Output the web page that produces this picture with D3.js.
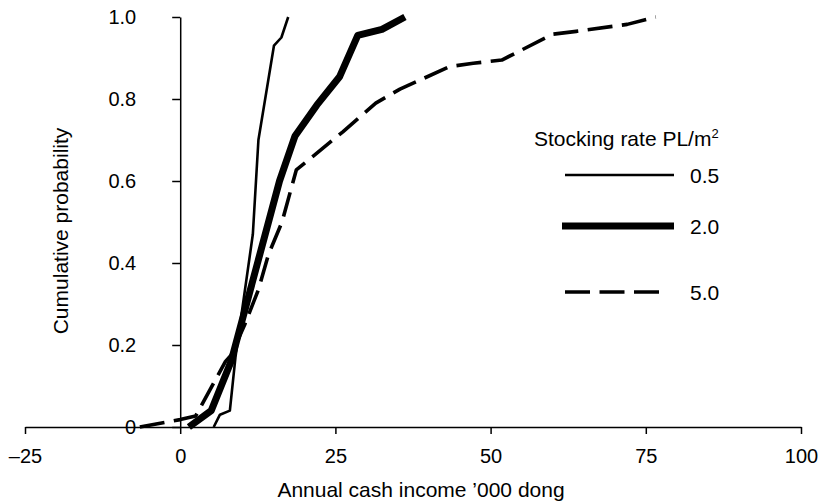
<!DOCTYPE html>
<html>
<head>
<meta charset="utf-8">
<script src="https://cdn.jsdelivr.net/npm/d3@7"></script>
<style>
  html, body { margin: 0; padding: 0; background: #fff; }
  svg { display: block; }
  text { font-family: Arial, "Liberation Sans", sans-serif; fill: #000; }
</style>
</head>
<body>
<svg id="chart" width="821" height="503"></svg>
<script>
// ---- Data ----
const seriesNames = ["0.5", "2.0", "5.0"];
const income05 = [5.4, 6.4, 8.0, 8.9, 10.3, 11.7, 12.6, 15.1, 16.3, 17.4];
const prob05   = [0.00, 0.03, 0.04, 0.17, 0.32, 0.47, 0.70, 0.93, 0.95, 1.00];
const income20 = [1.4, 5.0, 8.2, 16.0, 18.5, 22.0, 25.7, 28.6, 32.5, 36.2];
const prob20   = [0.00, 0.04, 0.16, 0.60, 0.71, 0.785, 0.855, 0.955, 0.97, 1.00];
const income50 = [-6.5, 0.0, 2.5, 7.3, 8.2, 10.4, 12.6, 14.2, 16.4, 18.7, 26.2, 31.5, 35.4, 43.4, 47.2, 51.8, 60.0, 63.8, 72.0, 76.6];
const prob50   = [0.00, 0.018, 0.027, 0.16, 0.175, 0.25, 0.335, 0.42, 0.50, 0.627, 0.72, 0.79, 0.824, 0.879, 0.887, 0.895, 0.958, 0.965, 0.982, 1.00];
const xTicks = [-25, 0, 25, 50, 75, 100];
const xTickLabels = ["\u201325", "0", "25", "50", "75", "100"];
const yTicks = [0, 0.2, 0.4, 0.6, 0.8, 1.0];
const yTickLabels = ["0", "0.2", "0.4", "0.6", "0.8", "1.0"];

const series = [
  { name: seriesNames[0], xs: income05, ys: prob05, width: 2.6, dash: null },
  { name: seriesNames[1], xs: income20, ys: prob20, width: 7, dash: null },
  { name: seriesNames[2], xs: income50, ys: prob50, width: 3.6, dash: "25,9.5" }
];

// ---- Scales ----
const svg = d3.select("#chart");
const x = d3.scaleLinear().domain([-25, 100]).range([25, 801]);
const y = d3.scaleLinear().domain([0, 1]).range([427, 17]);

// ---- Axes ----
const xAxis = d3.axisBottom(x)
  .tickValues(xTicks)
  .tickFormat((d, i) => xTickLabels[i])
  .tickSize(7).tickSizeOuter(0).tickPadding(15);
const gx = svg.append("g").attr("transform", `translate(0,${y(0)})`).call(xAxis);

const yAxis = d3.axisLeft(y)
  .tickValues(yTicks)
  .tickFormat((d, i) => yTickLabels[i])
  .tickSize(8).tickSizeOuter(0).tickPadding(36);
const gy = svg.append("g").attr("transform", `translate(${x(0)},0)`).call(yAxis);

[gx, gy].forEach(g => {
  g.select(".domain").attr("stroke", "#000").attr("stroke-width", 1.5);
  g.selectAll(".tick line").attr("stroke", "#000").attr("stroke-width", 1.5);
  g.selectAll(".tick text").style("font-size", "20px").attr("fill", "#000")
    .style("font-family", 'Arial, "Liberation Sans", sans-serif');
});

// ---- Lines ----
const line = d3.line().x(d => x(d[0])).y(d => y(d[1]));
series.forEach(s => {
  const pts = s.xs.map((v, i) => [v, s.ys[i]]);
  svg.append("path")
    .datum(pts)
    .attr("d", line)
    .attr("fill", "none")
    .attr("stroke", "#000")
    .attr("stroke-width", s.width)
    .attr("stroke-linejoin", "round")
    .attr("stroke-dasharray", s.dash);
});

// ---- Axis titles ----
svg.append("text")
  .attr("x", 421).attr("y", 497)
  .attr("text-anchor", "middle")
  .style("font-size", "21px")
  .text("Annual cash income \u2019000 dong");

svg.append("text")
  .attr("transform", "translate(68,231) rotate(-90)")
  .attr("text-anchor", "middle")
  .style("font-size", "21px")
  .text("Cumulative probability");

// ---- Legend ----
const lg = svg.append("g");
const lt = lg.append("text").attr("x", 534).attr("y", 146).style("font-size", "21px");
lt.append("tspan").text("Stocking rate PL/m");
lt.append("tspan").attr("dy", -8).style("font-size", "13px").text("2");

const legendY = [175, 226, 292];
const legendX0 = [565, 562, 565];
const legendX1 = [674, 674, 661];
series.forEach((s, i) => {
  lg.append("line")
    .attr("x1", legendX0[i]).attr("x2", legendX1[i])
    .attr("y1", legendY[i]).attr("y2", legendY[i])
    .attr("stroke", "#000")
    .attr("stroke-width", s.width)
    .attr("stroke-dasharray", s.dash);
  lg.append("text")
    .attr("x", 690).attr("y", legendY[i] + 8)
    .style("font-size", "21px")
    .text(s.name);
});
</script>
</body>
</html>
